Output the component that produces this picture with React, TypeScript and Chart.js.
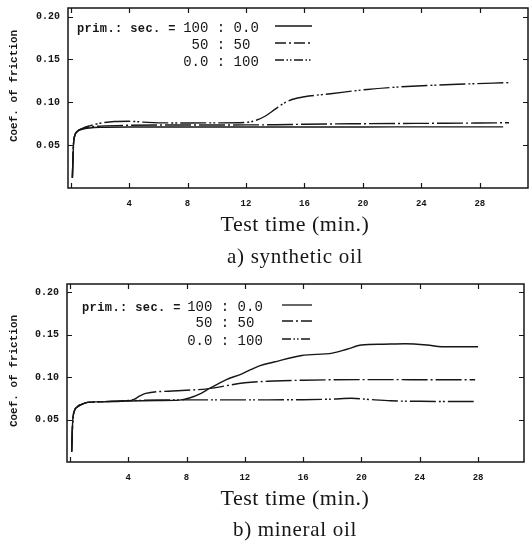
import React, { useEffect, useRef } from 'react';
import { Chart, registerables } from 'chart.js';
Chart.register(...registerables);

// ---------- data ----------
const ratioLabels = ['100 : 0.0', '50 : 50', '0.0 : 100'];
const legendPrefix = 'prim.: sec. =';
const xTickValues = [0, 4, 8, 12, 16, 20, 24, 28];
const yTickValues = [0.05, 0.1, 0.15, 0.2];
const xTitle = 'Test time (min.)';
const yTitle = 'Coef. of friction';
const subtitleA = 'a) synthetic oil';
const subtitleB = 'b) mineral oil';

// a) synthetic oil
const synSolidT = [0.12, 0.16, 0.2, 0.28, 0.45, 0.8, 1.3, 2, 4, 8, 12, 16, 20, 24, 28, 29.6];
const synSolidY = [0.012, 0.035, 0.052, 0.061, 0.066, 0.0685, 0.07, 0.0708, 0.0712, 0.0712, 0.0712, 0.0712, 0.0712, 0.0713, 0.0713, 0.0713];
const synMixT = [0.12, 0.16, 0.2, 0.28, 0.45, 0.8, 1.3, 2, 4, 8, 12, 14, 16, 20, 24, 28, 30];
const synMixY = [0.012, 0.035, 0.052, 0.061, 0.066, 0.069, 0.0712, 0.0722, 0.0732, 0.0735, 0.0736, 0.0738, 0.0744, 0.075, 0.0754, 0.0758, 0.0762];
const synSecT = [0.12, 0.16, 0.2, 0.28, 0.45, 0.8, 1.3, 2, 3, 4, 5, 6, 8, 10, 12, 12.7, 13.3, 14, 14.6, 15.2, 16, 17.8, 20.3, 22.6, 26.5, 30.1];
const synSecY = [0.012, 0.035, 0.052, 0.061, 0.066, 0.0695, 0.0725, 0.0755, 0.0775, 0.0778, 0.0768, 0.076, 0.0759, 0.076, 0.0766, 0.079, 0.0837, 0.092, 0.099, 0.1035, 0.1065, 0.11, 0.115, 0.118, 0.121, 0.123];

// b) mineral oil
const minSolidT = [0.12, 0.16, 0.2, 0.3, 0.5, 0.8, 1.2, 2, 4, 6, 7.5, 8.2, 9, 9.6, 10.7, 11.8, 13, 14, 15.9, 18, 19, 20, 21.5, 23, 24.5, 25.5, 28];
const minSolidY = [0.012, 0.035, 0.05, 0.06, 0.065, 0.068, 0.0703, 0.071, 0.072, 0.0725, 0.073, 0.0755, 0.081, 0.087, 0.097, 0.104, 0.1135, 0.118, 0.1257, 0.1285, 0.133, 0.138, 0.139, 0.1395, 0.138, 0.136, 0.136];
const minMixT = [0.12, 0.16, 0.2, 0.3, 0.5, 0.8, 1.2, 2, 4, 4.4, 4.8, 5.2, 7, 9.4, 12, 14, 16, 18, 22, 25, 27.8];
const minMixY = [0.012, 0.035, 0.05, 0.06, 0.065, 0.068, 0.0703, 0.071, 0.0725, 0.074, 0.078, 0.081, 0.0838, 0.0863, 0.0935, 0.0955, 0.0965, 0.097, 0.0972, 0.097, 0.097];
const minSecT = [0.12, 0.16, 0.2, 0.3, 0.5, 0.8, 1.2, 2, 4, 8, 12, 16, 18, 19.3, 20.5, 22, 24, 27.7];
const minSecY = [0.012, 0.035, 0.05, 0.06, 0.065, 0.068, 0.0703, 0.071, 0.0724, 0.0733, 0.0733, 0.0735, 0.0742, 0.0752, 0.0738, 0.0722, 0.0716, 0.0713];

// ---------- styles ----------
const INK = '#161616';
const plotDashes = [[], [26, 3, 2, 3], [26, 3, 2, 2, 2, 3]];
const legendDashes = [[], [11, 3, 2, 3], [9, 2.5, 1.5, 2, 1.5, 2.5]];

const zip = (t: number[], y: number[]) => t.map((v, i) => ({ x: v, y: y[i] }));

const framePlugin = {
  id: 'frameTicks',
  afterDatasetsDraw(chart: any) {
    const { ctx, chartArea: a, scales } = chart;
    ctx.save();
    ctx.strokeStyle = INK;
    ctx.lineWidth = 1.5;
    ctx.strokeRect(a.left, a.top, a.right - a.left, a.bottom - a.top);
    ctx.lineWidth = 1.2;
    const L = 5;
    ctx.beginPath();
    scales.x.ticks.forEach((t: any) => {
      const px = Math.round(scales.x.getPixelForValue(t.value)) + 0.5;
      ctx.moveTo(px, a.bottom); ctx.lineTo(px, a.bottom - L);
      ctx.moveTo(px, a.top); ctx.lineTo(px, a.top + L);
    });
    scales.y.ticks.forEach((t: any) => {
      const py = Math.round(scales.y.getPixelForValue(t.value)) + 0.5;
      ctx.moveTo(a.left, py); ctx.lineTo(a.left + L, py);
      ctx.moveTo(a.right, py); ctx.lineTo(a.right - L, py);
    });
    ctx.stroke();
    ctx.restore();
  },
};

function makeLegendPlugin(cfg: { prefixX: number; rows: number[]; ratioX: number; s0: number; s1: number }) {
  return {
    id: 'ratioLegend',
    afterDraw(chart: any) {
      const { ctx, chartArea: a } = chart;
      ctx.save();
      ctx.fillStyle = INK;
      ctx.strokeStyle = INK;
      ctx.textBaseline = 'middle';
      ctx.font = 'bold 12px "Liberation Mono"';
      ctx.textAlign = 'left';
      (ctx as any).letterSpacing = '0.4px';
      ctx.fillText(legendPrefix, a.left + cfg.prefixX, a.top + cfg.rows[0] + 1);
      (ctx as any).letterSpacing = '0px';
      chart.data.datasets.forEach((ds: any, i: number) => {
        const y = a.top + cfg.rows[i];
        ctx.font = '14px "Liberation Mono"';
        ctx.textAlign = 'center';
        ctx.fillText(ds.label, a.left + cfg.ratioX, y);
        ctx.lineWidth = 1.3;
        ctx.setLineDash(legendDashes[i]);
        ctx.beginPath();
        ctx.moveTo(a.left + cfg.s0, y - 2);
        ctx.lineTo(a.left + cfg.s1, y - 2);
        ctx.stroke();
      });
      ctx.restore();
    },
  };
}

function makeTextPlugin(cfg: { yTitleX: number; yTitleDy: number; titleY: number; subY: number; centerX: number; subtitle: string }) {
  return {
    id: 'captions',
    afterDraw(chart: any) {
      const { ctx, chartArea: a } = chart;
      ctx.save();
      ctx.fillStyle = INK;
      ctx.textAlign = 'center';
      ctx.textBaseline = 'middle';
      // y axis title
      ctx.save();
      ctx.translate(cfg.yTitleX, (a.top + a.bottom) / 2 + cfg.yTitleDy);
      ctx.rotate(-Math.PI / 2);
      ctx.font = 'bold 11px "Liberation Mono"';
      ctx.fillText(yTitle, 0, 0);
      ctx.restore();
      // x axis title
      ctx.font = '22px "Liberation Serif"';
      (ctx as any).letterSpacing = '0.5px';
      ctx.fillText(xTitle, cfg.centerX, cfg.titleY);
      // caption
      ctx.font = '21px "Liberation Serif"';
      (ctx as any).letterSpacing = '0.7px';
      ctx.fillText(cfg.subtitle, cfg.centerX, cfg.subY);
      ctx.restore();
    },
  };
}

type PanelProps = {
  series: { t: number[]; y: number[] }[];
  subtitle: string;
  padTop: number;
  padRight: number;
  padBottom: number;
  yWidth: number;
  xMin: number;
  xMax: number;
  xHeight: number;
  yTitleDy: number;
  titleY: number;
  subY: number;
  legend: { prefixX: number; rows: number[]; ratioX: number; s0: number; s1: number };
};

function Panel(p: PanelProps) {
  const ref = useRef<HTMLCanvasElement>(null);
  useEffect(() => {
    if (!ref.current) return;
    const chart = new Chart(ref.current, {
      type: 'line',
      data: {
        datasets: p.series.map((s, i) => ({
          label: ratioLabels[i],
          data: zip(s.t, s.y),
          borderColor: INK,
          borderWidth: 1.4,
          borderDash: plotDashes[i],
          pointRadius: 0,
          fill: false,
          cubicInterpolationMode: 'monotone' as const,
        })),
      },
      options: {
        animation: false,
        responsive: true,
        maintainAspectRatio: false,
        layout: { padding: { top: p.padTop, right: p.padRight, left: 0, bottom: p.padBottom } },
        plugins: {
          legend: { display: false },
          tooltip: { enabled: false },
          title: { display: false },
        },
        scales: {
          x: {
            type: 'linear',
            min: p.xMin,
            max: p.xMax,
            grid: { display: false, drawTicks: false },
            border: { display: false },
            afterBuildTicks: (s: any) => { s.ticks = xTickValues.map((v) => ({ value: v })); },
            afterFit: (s: any) => { s.height = p.xHeight; s.paddingLeft = 0; s.paddingRight = 0; },
            ticks: {
              autoSkip: false,
              maxRotation: 0,
              padding: 10,
              color: INK,
              font: { family: '"Liberation Mono"', size: 9, weight: 'bold' },
              callback: (v: any) => (v === 0 ? '' : String(v)),
            },
          },
          y: {
            type: 'linear',
            min: 0,
            max: 0.21,
            grid: { display: false, drawTicks: false },
            border: { display: false },
            afterBuildTicks: (s: any) => { s.ticks = yTickValues.map((v) => ({ value: v })); },
            afterFit: (s: any) => { s.width = p.yWidth; s.paddingTop = 0; s.paddingBottom = 0; },
            ticks: {
              autoSkip: false,
              padding: 8,
              color: INK,
              font: { family: '"Liberation Mono"', size: 10, weight: 'bold' },
              callback: (v: any) => Number(v).toFixed(2),
            },
          },
        },
      } as any,
      plugins: [
        framePlugin,
        makeLegendPlugin(p.legend),
        makeTextPlugin({ yTitleX: 14, yTitleDy: p.yTitleDy, titleY: p.titleY, subY: p.subY, centerX: 295, subtitle: p.subtitle }),
      ],
    });
    return () => chart.destroy();
  }, []);
  return (
    <div style={{ position: 'relative', width: 529, height: 273 }}>
      <canvas ref={ref} />
    </div>
  );
}

export default function App() {
  return (
    <div style={{ position: 'absolute', left: 0, top: 0, width: 529, height: 546, background: '#fff' }}>
      <Panel
        series={[
          { t: synSolidT, y: synSolidY },
          { t: synMixT, y: synMixY },
          { t: synSecT, y: synSecY },
        ]}
        subtitle={subtitleA}
        padTop={8}
        padRight={1}
        padBottom={50}
        yWidth={68}
        xMin={-0.18}
        xMax={31.3}
        xHeight={35}
        yTitleDy={-12}
        titleY={225}
        subY={257}
        legend={{ prefixX: 9, rows: [20, 37, 54], ratioX: 153, s0: 207, s1: 244 }}
      />
      <Panel
        series={[
          { t: minSolidT, y: minSolidY },
          { t: minMixT, y: minMixY },
          { t: minSecT, y: minSecY },
        ]}
        subtitle={subtitleB}
        padTop={11}
        padRight={5}
        padBottom={49}
        yWidth={67}
        xMin={-0.2}
        xMax={31.15}
        xHeight={35}
        yTitleDy={-2}
        titleY={226}
        subY={257}
        legend={{ prefixX: 15, rows: [23, 39, 57], ratioX: 158, s0: 215, s1: 245 }}
      />
    </div>
  );
}
